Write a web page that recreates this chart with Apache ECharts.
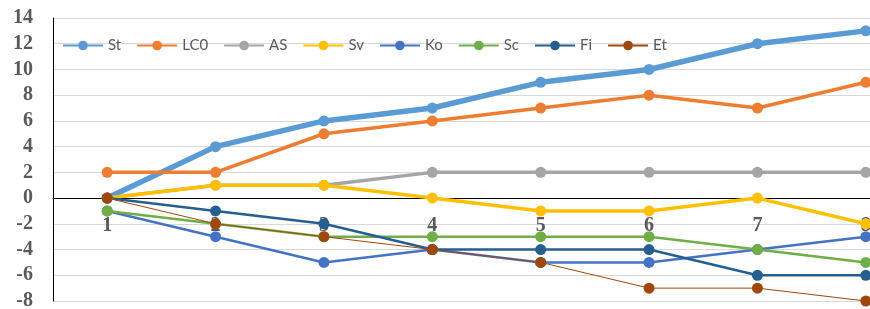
<!DOCTYPE html>
<html>
<head>
<meta charset="utf-8">
<script src="https://cdn.jsdelivr.net/npm/echarts@6/dist/echarts.min.js"></script>
<style>
html,body{margin:0;padding:0;background:#fff;}
#main{width:870px;height:309px;}
</style>
</head>
<body>
<div id="main"></div>
<script>
// categories on the x axis
var xData = ['1','2','3','4','5','6','7','8'];
// series values
var stData  = [0, 4, 6, 7, 9, 10, 12, 13];
var lc0Data = [2, 2, 5, 6, 7, 8, 7, 9];
var asData  = [0, 1, 1, 2, 2, 2, 2, 2];
var svData  = [0, 1, 1, 0, -1, -1, 0, -2];
var koData  = [-1, -3, -5, -4, -5, -5, -4, -3];
var scData  = [-1, -2, -3, -3, -3, -3, -4, -5];
var fiData  = [0, -1, -2, -4, -4, -4, -6, -6];
var etData  = [0, -2, -3, -4, -5, -7, -7, -8];

function mkLine(name, data, color, width, size){
	return {
		name: name,
		type: 'line',
		data: data,
		symbol: 'circle',
		symbolSize: size,
		lineStyle: { color: color, width: width },
		itemStyle: { color: color },
		emphasis: { disabled: true }
	};
}

var myChart = echarts.init(document.getElementById('main'));
var option = {
	animation: false,
	grid: {
		left: 53,
		right: -50,
		top: 18,
		bottom: 8,
		containLabel: false,
		outerBoundsMode: 'none'
	},
	legend: {
		left: 62,
		top: 38,
		padding: 0,
		itemWidth: 40,
		itemHeight: 12,
		itemGap: 15,
		textStyle: {
			color: '#595959',
			fontSize: 15,
			fontFamily: 'Lato'
		},
		data: ['St','LC0','AS','Sv','Ko','Sc','Fi','Et']
	},
	xAxis: {
		type: 'category',
		data: xData,
		z: 3,
		boundaryGap: true,
		axisLine: { onZero: true, lineStyle: { color: '#000', width: 1 } },
		axisTick: { show: false },
		splitLine: { show: false },
		axisLabel: {
			margin: -85,
			color: '#595959',
			fontSize: 20,
			fontWeight: 'bold',
			fontFamily: 'Liberation Serif'
		}
	},
	yAxis: {
		type: 'value',
		min: -8,
		max: 14,
		interval: 2,
		axisLine: { show: true, lineStyle: { color: '#000', width: 1 } },
		axisTick: { show: false },
		splitLine: { lineStyle: { color: '#D9D9D9', width: 1 } },
		axisLabel: {
			margin: 20,
			color: '#595959',
			fontSize: 20,
			fontWeight: 'bold',
			fontFamily: 'Liberation Serif'
		}
	},
	series: [
		mkLine('St', stData, '#5B9BD5', 5.5, 11),
		mkLine('LC0', lc0Data, '#ED7D31', 3.5, 11),
		mkLine('AS', asData, '#A5A5A5', 3.5, 11),
		mkLine('Sv', svData, '#FFC000', 3.5, 11),
		mkLine('Ko', koData, '#4472C4', 2.5, 11),
		mkLine('Sc', scData, '#70AD47', 2.5, 11),
		mkLine('Fi', fiData, '#255E91', 2.5, 11),
		mkLine('Et', etData, '#9E480E', 1, 11)
	]
};
myChart.setOption(option);
</script>
</body>
</html>
